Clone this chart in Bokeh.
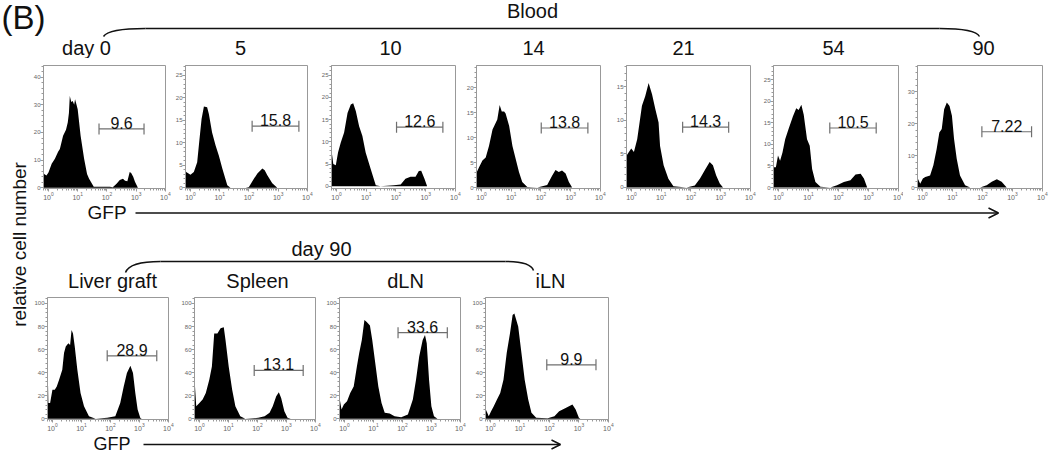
import math
from bokeh.plotting import figure
from bokeh.layouts import row, column
from bokeh.models import Range1d, FixedTicker, SingleIntervalTicker, Arrow, OpenHead, Spacer
from bokeh.core.properties import value
from bokeh.embed import file_html
from bokeh.resources import INLINE

FONT = "Liberation Sans"
INK = "#111111"
GRAYLINE = "#6f6f6f"

# ---------------- data (log10 GFP, relative cell number) ----------------
top_titles = ["day 0", "5", "10", "14", "21", "54", "90"]
bottom_titles = ["Liver graft", "Spleen", "dLN", "iLN"]

d0_lx = [-0.17, -0.16, -0.15, -0.07, 0.0, 0.11, 0.22, 0.33, 0.39, 0.5, 0.6, 0.66, 0.7, 0.73, 0.78, 0.83, 0.88, 0.91, 0.96, 1.0,
         1.1, 1.22, 1.32, 1.39, 1.55, 2.1, 2.2, 2.33, 2.44, 2.55, 2.62, 2.7, 2.78, 2.83, 2.9, 2.96, 3.06, 4.0]
d0_y = [14.8, 9.0, 5.0, 4.5, 5.5, 8.7, 10.5, 13.0, 14.0, 18.8, 21.0, 23.6, 27.0, 33.2, 31.0, 31.4, 30.0, 32.0, 30.0, 28.4,
        18.8, 10.5, 5.0, 3.3, 0.4, 0.4, 0.2, 1.5, 2.8, 3.3, 2.6, 2.4, 5.7, 5.4, 4.0, 2.2, 0.0, 0.0]

d5_lx = [-0.17, -0.147, 0.0, 0.115, 0.23, 0.31, 0.38, 0.46, 0.57, 0.63, 0.74, 0.86, 0.97, 1.09, 1.26, 1.37, 1.89, 2.0,
         2.17, 2.29, 2.46, 2.54, 2.63, 2.80, 2.97, 4.0]
d5_y = [4.0, 3.5, 2.9, 3.5, 5.7, 10.9, 15.3, 18.1, 17.9, 16.4, 12.3, 9.4, 7.2, 4.3, 0.6, 0.0, 0.0, 0.2,
        2.0, 3.2, 4.3, 3.9, 2.8, 1.0, 0.0, 0.0]

d10_lx = [-0.17, -0.16, -0.11, -0.025, 0.05, 0.14, 0.255, 0.37, 0.48, 0.56, 0.65, 0.76, 0.87, 0.98, 1.15, 1.32, 1.48,
          1.93, 2.16, 2.32, 2.49, 2.66, 2.77, 2.85, 2.96, 3.05, 4.0]
d10_y = [9.0, 7.6, 5.0, 4.7, 7.6, 9.8, 12.1, 16.5, 18.4, 18.7, 16.9, 13.5, 11.3, 7.6, 3.9, 0.2, 0.0,
         0.2, 0.4, 1.7, 2.1, 2.1, 3.4, 3.5, 1.7, 0.0, 0.0]

d14_lx = [-0.17, -0.16, -0.08, 0.03, 0.14, 0.25, 0.37, 0.45, 0.53, 0.61, 0.68, 0.76, 0.81, 0.93, 1.04, 1.15, 1.26, 1.37,
          1.54, 1.88, 2.21, 2.38, 2.49, 2.60, 2.71, 2.83, 2.94, 3.05, 4.0]
d14_y = [3.1, 3.1, 4.1, 5.4, 6.0, 8.3, 11.6, 12.6, 13.6, 16.5, 15.2, 15.2, 14.8, 12.3, 8.3, 5.7, 3.1, 1.1,
         0.1, 0.0, 0.5, 2.4, 3.5, 3.1, 3.4, 2.8, 1.1, 0.0, 0.0]

d21_lx = [-0.17, -0.16, -0.09, -0.01, 0.08, 0.19, 0.27, 0.35, 0.46, 0.575, 0.69, 0.80, 0.91, 0.96, 1.08, 1.24, 1.41,
          1.85, 2.13, 2.30, 2.47, 2.63, 2.74, 2.85, 2.97, 3.08, 4.0]
d21_y = [4.8, 4.8, 5.3, 5.8, 5.3, 7.2, 9.7, 12.2, 13.6, 15.6, 13.9, 11.7, 9.7, 6.2, 3.3, 1.3, 0.2,
         0.0, 0.3, 1.3, 2.6, 3.8, 3.3, 1.8, 0.6, 0.0, 0.0]

d54_lx = [-0.17, -0.16, -0.09, -0.02, 0.05, 0.13, 0.22, 0.33, 0.48, 0.59, 0.67, 0.76, 0.84, 0.95, 1.04, 1.12, 1.23,
          1.40, 1.73, 1.95, 2.18, 2.40, 2.57, 2.74, 2.85, 2.96, 4.0]
d54_y = [4.7, 4.7, 4.7, 7.4, 6.2, 8.1, 11.2, 13.5, 16.5, 18.4, 18.0, 19.2, 16.9, 11.2, 9.7, 4.3, 1.3,
         0.2, 0.0, 0.5, 1.3, 1.7, 3.0, 3.2, 2.1, 0.0, 0.0]

d90_lx = [-0.17, -0.16, -0.08, 0.01, 0.09, 0.25, 0.36, 0.47, 0.56, 0.64, 0.72, 0.81, 0.90, 0.98, 1.05, 1.14, 1.25,
          1.42, 1.59, 1.92, 2.14, 2.31, 2.48, 2.64, 2.81, 4.0]
d90_y = [2.8, 2.8, 1.2, 2.8, 3.3, 3.8, 7.0, 12.1, 17.3, 18.4, 24.6, 26.7, 25.6, 22.5, 15.3, 9.0, 3.8,
         0.7, 0.0, 0.0, 0.7, 1.8, 2.6, 1.8, 0.0, 0.0]

liver_lx = [-0.17, -0.16, -0.14, -0.08, 0.0, 0.08, 0.15, 0.23, 0.34, 0.40, 0.46, 0.55, 0.61, 0.66, 0.71, 0.77, 0.86,
            0.97, 1.09, 1.26, 1.49, 1.89, 2.17, 2.34, 2.46, 2.57, 2.69, 2.78, 2.86, 2.94, 3.03, 3.08, 4.0]
liver_y = [57, 40, 13.8, 13.8, 25.3, 25.3, 28, 34, 42.5, 57, 62.7, 65.5, 64, 77, 74, 62.7, 42.5,
           22.4, 10.9, 2.3, 0, 0.9, 2.3, 13.8, 28, 39.7, 46, 39.7, 22.4, 8, 1, 0, 0]

spleen_lx = [-0.17, -0.16, -0.11, 0.0, 0.11, 0.22, 0.34, 0.43, 0.51, 0.62, 0.73, 0.84, 0.90, 1.01, 1.13, 1.24, 1.41,
             1.58, 2.03, 2.25, 2.42, 2.53, 2.65, 2.74, 2.82, 2.93, 3.04, 3.15, 4.0]
spleen_y = [31, 31, 10.9, 13.8, 16.7, 22.4, 34, 45.4, 74, 74, 78.5, 79.3, 68.4, 45.4, 25.3, 10.9, 2.3,
            0, 0.9, 2.3, 5.2, 10.9, 19.5, 23, 18.1, 6.6, 0.9, 0, 0]

dln_lx = [-0.17, -0.16, -0.10, -0.02, 0.09, 0.20, 0.32, 0.43, 0.51, 0.60, 0.69, 0.77, 0.88, 0.96, 1.05, 1.17, 1.28,
          1.39, 1.56, 1.73, 1.96, 2.19, 2.36, 2.47, 2.58, 2.70, 2.78, 2.84, 2.92, 3.00, 3.09, 3.21, 4.0]
dln_y = [16.7, 16.7, 8, 12.4, 15.2, 22.4, 28, 45.4, 57, 68.4, 85.6, 84, 81, 68.4, 51, 28, 13.8,
         5.2, 4.6, 2.3, 1.4, 3.7, 16.7, 34, 54, 68.4, 72.7, 65.5, 34, 10.9, 2.3, 0, 0]

iln_lx = [-0.17, -0.16, -0.11, -0.06, 0.02, 0.11, 0.22, 0.33, 0.44, 0.55, 0.66, 0.75, 0.81, 0.86, 0.94, 1.05, 1.16,
          1.28, 1.39, 1.55, 1.94, 2.17, 2.33, 2.55, 2.78, 2.89, 3.0, 3.05, 4.0]
iln_y = [8, 8, 5.2, 2.3, 6.6, 10.9, 16.7, 22.4, 34, 57, 74, 90, 91.4, 87, 80, 57, 34,
         16.7, 5.2, 0.9, 0.6, 2.3, 6.6, 9.5, 12.4, 8, 0.9, 0, 0]

# gates: log10 start, log10 end, height, percentage label
top_gate_lo = [1.73, 2.11, 2.02, 2.01, 1.72, 1.71, 1.98]
top_gate_hi = [3.27, 3.71, 3.58, 3.58, 3.27, 3.26, 3.64]
top_gate_y = [21.3, 13.7, 13.3, 11.9, 9.0, 13.8, 17.5]
top_gate_labels = ["9.6", "15.8", "12.6", "13.8", "14.3", "10.5", "7.22"]
bottom_gate_lo = [1.89, 1.89, 1.85, 1.91]
bottom_gate_hi = [3.60, 3.58, 3.55, 3.58]
bottom_gate_y = [54.6, 42.0, 74.7, 46.8]
bottom_gate_labels = ["28.9", "13.1", "33.6", "9.9"]

# y axis extents and tick spacing
top_y_start = [-0.24, -0.15, -0.52, -0.2, -0.15, -0.23, -0.31]
top_y_end = [44.2, 27.2, 27.2, 24.4, 18.2, 28.3, 38.3]
top_y_step = [10, 5, 5, 5, 5, 5, 10]
bottom_y_start = [-0.57] * 4
bottom_y_end = [105.2] * 4
bottom_y_step = [20] * 4

X_START, X_END = -0.17, 4.005
decade_ticks = [1, 10, 100, 1000, 10000]
minor_ticks = [m * 10 ** d for d in range(-1, 4) for m in range(2, 10)]

top_series = [(d0_lx, d0_y), (d5_lx, d5_y), (d10_lx, d10_y), (d14_lx, d14_y),
              (d21_lx, d21_y), (d54_lx, d54_y), (d90_lx, d90_y)]
bottom_series = [(liver_lx, liver_y), (spleen_lx, spleen_y), (dln_lx, dln_y), (iln_lx, iln_y)]

# ---------------- layout geometry (pixels) ----------------
W, H = 1050, 454
STRIP_W = 30
COL_W = W - STRIP_W
HEADER_H = 58
TOP_H, MID_H, BOT_H, LOW_H = 145, 89, 141, 21
# (width, border_left, border_right, border_top, border_bottom)
top_geom = [(141, 10, 6, 7, 13), (146, 14, 10, 7, 13), (145, 14, 7, 7, 13), (150, 14, 12, 7, 13),
            (147, 14, 9, 7, 13), (144, 14, 5, 7, 13), (147, 14, 8, 5, 15)]
bottom_geom = [(148, 17, 10, 5, 13), (145, 14, 8, 5, 13), (146, 14, 9, 5, 13), (151, 14, 12, 5, 13)]


def style_axis(ax, size):
    ax.major_label_text_font = FONT
    ax.major_label_text_font_size = size
    ax.major_label_text_color = "#666666"
    ax.axis_line_color = "#999999"
    ax.major_tick_line_color = "#999999"
    ax.minor_tick_line_color = "#999999"
    ax.major_tick_in = 0
    ax.major_tick_out = 3
    ax.minor_tick_in = 0
    ax.minor_tick_out = 2
    ax.major_label_standoff = 0


def panel(lx, yv, glo, ghi, gy, glab, ys, ye, ystep, geom, height):
    w, bl, br, bt, bb = geom
    p = figure(width=w, height=height, x_axis_type="log",
               x_range=Range1d(10 ** X_START, 10 ** X_END), y_range=Range1d(ys, ye),
               output_backend="svg", toolbar_location=None,
               min_border_left=bl, min_border_right=br, min_border_top=bt, min_border_bottom=bb)
    p.xgrid.visible = False
    p.ygrid.visible = False
    p.outline_line_color = "#999999"
    p.background_fill_color = "white"
    p.border_fill_color = "white"
    xs = [10 ** v for v in lx]
    p.varea(x=xs, y1=[0] * len(xs), y2=yv, fill_color="black")
    g0, g1 = 10 ** glo, 10 ** ghi
    p.segment(x0=[g0], y0=[gy], x1=[g1], y1=[gy], line_color=GRAYLINE, line_width=1.2)
    p.scatter(x=[g0, g1], y=[gy, gy], marker="dash", angle=math.pi / 2, size=11,
              line_color=GRAYLINE, line_width=1.2)
    p.text(x=[math.sqrt(g0 * g1)], y=[gy], text=[glab], text_align="center",
           text_baseline="bottom", y_offset=0, text_font=value(FONT),
           text_font_size="16px", text_color=INK)
    p.xaxis.ticker = FixedTicker(ticks=decade_ticks, minor_ticks=minor_ticks)
    p.yaxis.ticker = SingleIntervalTicker(interval=ystep, num_minor_ticks=5)
    style_axis(p.xaxis[0], "7px")
    style_axis(p.yaxis[0], "6px")
    return p


def band(x0, x1, ytop, ybot):
    p = figure(width=int(x1 - x0), height=int(ybot - ytop), x_range=Range1d(x0, x1),
               y_range=Range1d(ybot, ytop), x_axis_type=None, y_axis_type=None,
               output_backend="svg", toolbar_location=None, min_border=0)
    p.outline_line_color = None
    p.background_fill_color = "white"
    p.border_fill_color = "white"
    for g in p.grid:
        g.visible = False
    return p


def put_text(p, xs, ys, texts, size, align="center", baseline="middle", angle=0.0):
    p.text(x=xs, y=ys, text=texts, text_align=align, text_baseline=baseline, angle=angle,
           text_font=value(FONT), text_font_size=size, text_color=INK)


def brace(p, xl, yl, xr, yr, yflat, hook_l, hook_r):
    # left hook, flat line, right hook
    p.quadratic(x0=[xl], y0=[yl], cx=[xl + hook_l[0]], cy=[yflat], x1=[xl + hook_l[1]], y1=[yflat],
                line_color=INK, line_width=1.5)
    p.segment(x0=[xl + hook_l[1]], y0=[yflat], x1=[xr - hook_r[1]], y1=[yflat], line_color=INK, line_width=1.5)
    p.quadratic(x0=[xr - hook_r[1]], y0=[yflat], cx=[xr - hook_r[0]], cy=[yflat], x1=[xr], y1=[yr],
                line_color=INK, line_width=1.5)


# ---------------- header ----------------
header = band(0, W, 0, HEADER_H)
put_text(header, [1], [17], ["(B)"], "33px", align="left")
put_text(header, [532], [10], ["Blood"], "20px")
put_text(header, [86, 240, 390, 533, 683, 833, 983], [47] * 7, top_titles, "20px")
brace(header, 103, 36, 979, 36, 28, (5, 42), (4, 40))

# ---------------- top row ----------------
top_figs = []
for i, (lx, yv) in enumerate(top_series):
    top_figs.append(panel(lx, yv, top_gate_lo[i], top_gate_hi[i], top_gate_y[i], top_gate_labels[i],
                          top_y_start[i], top_y_end[i], top_y_step[i], top_geom[i], TOP_H))

# ---------------- middle band ----------------
y0_mid = HEADER_H + TOP_H
mid = band(STRIP_W, W, y0_mid, y0_mid + MID_H)
put_text(mid, [87], [211.5], ["GFP"], "19px", align="left")
mid.add_layout(Arrow(end=OpenHead(size=10, line_width=1.5, line_color=INK),
                     x_start=135, y_start=212.5, x_end=998, y_end=212.5, line_width=1.5, line_color=INK))
put_text(mid, [321], [248], ["day 90"], "20px")
brace(mid, 125, 272, 533, 270, 261, (4, 35), (3, 28))
put_text(mid, [112, 257, 405, 550], [280] * 4, bottom_titles, "20px")

# ---------------- bottom row ----------------
bot_figs = []
for i, (lx, yv) in enumerate(bottom_series):
    bot_figs.append(panel(lx, yv, bottom_gate_lo[i], bottom_gate_hi[i], bottom_gate_y[i], bottom_gate_labels[i],
                          bottom_y_start[i], bottom_y_end[i], bottom_y_step[i], bottom_geom[i], BOT_H))
bot_row = row(*bot_figs, Spacer(width=COL_W - sum(g[0] for g in bottom_geom), height=BOT_H))

# ---------------- bottom band ----------------
y0_low = y0_mid + MID_H + BOT_H
low = band(STRIP_W, W, y0_low, y0_low + LOW_H)
put_text(low, [93], [443.5], ["GFP"], "18px", align="left")
low.add_layout(Arrow(end=OpenHead(size=9, line_width=1.5, line_color=INK),
                     x_start=143, y_start=444, x_end=560, y_end=444, line_width=1.5, line_color=INK))

# ---------------- left strip ----------------
left = band(0, STRIP_W, HEADER_H, H)
put_text(left, [19], [244], ["relative cell number"], "19px", angle=math.pi / 2)

layout = column(header, row(left, column(row(*top_figs), mid, bot_row, low)))

with open("out.html", "w") as f:
    f.write(file_html(layout, INLINE))
